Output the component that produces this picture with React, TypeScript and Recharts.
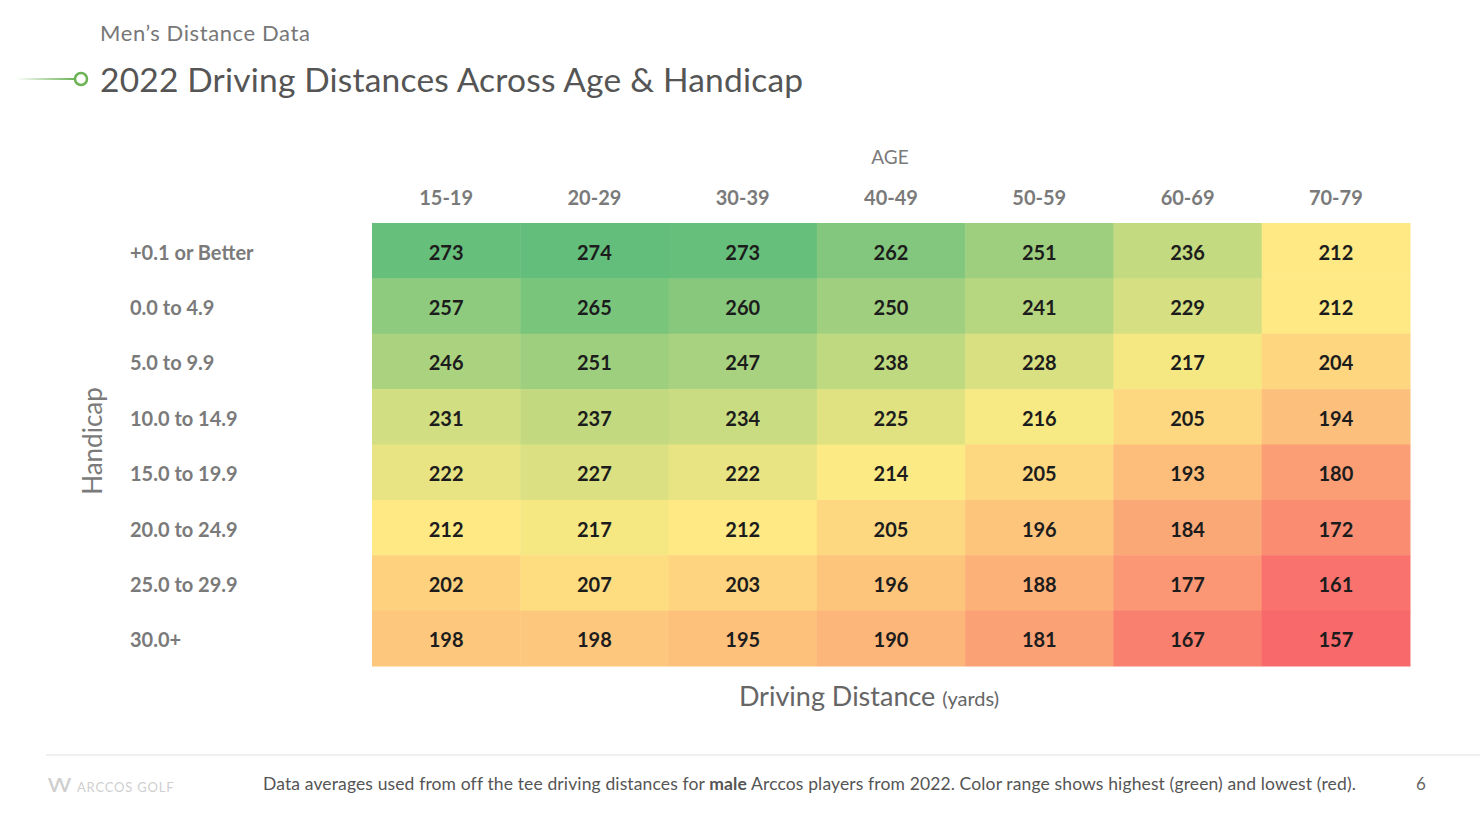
import React from "react";
import { ScatterChart, Scatter, XAxis, YAxis } from "recharts";

const AGES = ["15-19", "20-29", "30-39", "40-49", "50-59", "60-69", "70-79"];
const HANDICAPS = [
  "+0.1 or Better",
  "0.0 to 4.9",
  "5.0 to 9.9",
  "10.0 to 14.9",
  "15.0 to 19.9",
  "20.0 to 24.9",
  "25.0 to 29.9",
  "30.0+",
];
// driving distance (yards), one row per handicap band, one value per age group
const DISTANCES = [
  [273, 274, 273, 262, 251, 236, 212],
  [257, 265, 260, 250, 241, 229, 212],
  [246, 251, 247, 238, 228, 217, 204],
  [231, 237, 234, 225, 216, 205, 194],
  [222, 227, 222, 214, 205, 193, 180],
  [212, 217, 212, 205, 196, 184, 172],
  [202, 207, 203, 196, 188, 177, 161],
  [198, 198, 195, 190, 181, 167, 157],
];

const cells = HANDICAPS.flatMap((handicap, r) =>
  AGES.map((age, c) => ({ age, handicap, value: DISTANCES[r][c] }))
);

const allValues = DISTANCES.flat();
const sorted = [...allValues].sort((a, b) => a - b);
const MIN = sorted[0];
const MAX = sorted[sorted.length - 1];
const MID = (sorted[sorted.length / 2 - 1] + sorted[sorted.length / 2]) / 2;

const RED = [248, 105, 107];
const YELLOW = [255, 235, 132];
const GREEN = [99, 190, 123];

function mix(a: number[], b: number[], t: number) {
  const c = a.map((v, i) => Math.round(v + (b[i] - v) * t));
  return `rgb(${c[0]},${c[1]},${c[2]})`;
}

function colorFor(v: number) {
  if (v <= MID) return mix(RED, YELLOW, (v - MIN) / (MID - MIN));
  return mix(YELLOW, GREEN, (v - MID) / (MAX - MID));
}

const CHART_W = 1480;
const CHART_H = 826;
const MARGIN = { top: 183, right: 70, bottom: 160, left: 130 };
const X_AXIS_H = 40;
const Y_AXIS_W = 242;
const PLOT_W = CHART_W - MARGIN.left - MARGIN.right - Y_AXIS_W;
const PLOT_H = CHART_H - MARGIN.top - MARGIN.bottom - X_AXIS_H;
const CELL_W = PLOT_W / AGES.length;
const CELL_H = PLOT_H / HANDICAPS.length;

const labelFont = "Lato, 'Open Sans', sans-serif";

function HeatCell(props: any) {
  const { cx, cy, payload } = props;
  return (
    <g>
      <rect
        x={cx - CELL_W / 2}
        y={cy - CELL_H / 2}
        width={CELL_W + 0.5}
        height={CELL_H + 0.5}
        fill={colorFor(payload.value)}
      />
      <text
        x={cx}
        y={cy}
        dy={9}
        textAnchor="middle"
        fontFamily={labelFont}
        fontWeight={700}
        fontSize={20}
        fill="#1c1c1c"
      >
        {payload.value}
      </text>
    </g>
  );
}

function AgeTick(props: any) {
  const { x, y, payload } = props;
  return (
    <text x={x} y={y} dy={-18} textAnchor="middle" fontFamily={labelFont} fontWeight={700} fontSize={20} fill="#7a7a7a">
      {payload.value}
    </text>
  );
}

function HandicapTick(props: any) {
  const { x, y, payload } = props;
  return (
    <text x={x - Y_AXIS_W} y={y} dy={9} textAnchor="start" fontFamily={labelFont} fontWeight={700} fontSize={20} fill="#7a7a7a">
      {payload.value}
    </text>
  );
}

export default function App() {
  return (
    <div
      style={{
        position: "absolute",
        left: 0,
        top: 0,
        width: CHART_W,
        height: CHART_H,
        background: "#fff",
        overflow: "hidden",
        fontFamily: labelFont,
      }}
    >
      <div style={{ position: "absolute", left: 100, top: 19, fontSize: 22, color: "#777", letterSpacing: 0.6 }}>
        Men’s Distance Data
      </div>
      <svg style={{ position: "absolute", left: 0, top: 68 }} width={100} height={24}>
        <defs>
          <linearGradient id="lineFade" gradientUnits="userSpaceOnUse" x1={16} x2={75} y1={0} y2={0}>
            <stop offset="0%" stopColor="#6cb356" stopOpacity={0} />
            <stop offset="100%" stopColor="#6cb356" stopOpacity={1} />
          </linearGradient>
        </defs>
        <line x1={16} x2={75} y1={11} y2={11} stroke="url(#lineFade)" strokeWidth={2} />
        <circle cx={81} cy={11} r={6} fill="#fff" stroke="#6cb356" strokeWidth={2.5} />
      </svg>
      <div style={{ position: "absolute", left: 100, top: 59, fontSize: 33.5, color: "#555", letterSpacing: 0.2 }}>
        2022 Driving Distances Across Age &amp; Handicap
      </div>

      <div
        style={{
          position: "absolute",
          left: 790,
          width: 200,
          top: 145,
          textAlign: "center",
          fontSize: 19,
          color: "#7a7a7a",
        }}
      >
        AGE
      </div>
      <div
        style={{
          position: "absolute",
          left: -8,
          top: 425,
          width: 200,
          textAlign: "center",
          fontSize: 26,
          color: "#7a7a7a",
          transform: "rotate(-90deg)",
        }}
      >
        Handicap
      </div>

      <div style={{ position: "absolute", left: 0, top: 0 }}>
        <ScatterChart width={CHART_W} height={CHART_H} margin={MARGIN}>
          <XAxis
            dataKey="age"
            type="category"
            orientation="top"
            allowDuplicatedCategory={false}
            height={X_AXIS_H}
            axisLine={false}
            tickLine={false}
            tickSize={0}
            tickMargin={0}
            interval={0}
            tick={<AgeTick />}
          />
          <YAxis
            dataKey="handicap"
            type="category"
            reversed
            allowDuplicatedCategory={false}
            width={Y_AXIS_W}
            axisLine={false}
            tickLine={false}
            tickSize={0}
            tickMargin={0}
            interval={0}
            tick={<HandicapTick />}
          />
          <Scatter data={cells} shape={<HeatCell />} isAnimationActive={false} />
        </ScatterChart>
      </div>

      <div
        style={{
          position: "absolute",
          left: 0,
          width: 1738,
          top: 679,
          textAlign: "center",
          fontSize: 27,
          color: "#666",
        }}
      >
        Driving Distance <span style={{ fontSize: 20 }}>(yards)</span>
      </div>

      <div style={{ position: "absolute", left: 46, right: 0, top: 754, height: 2, background: "#f0f0f0" }} />
      <div
        style={{
          position: "absolute",
          left: 48,
          top: 774,
          fontSize: 13,
          color: "#cfcfcf",
          letterSpacing: 0.8,
          whiteSpace: "nowrap",
        }}
      >
        <span style={{ fontWeight: 700, fontSize: 18, marginRight: 8, letterSpacing: -2 }}>VV</span>ARCCOS GOLF
      </div>
      <div
        style={{
          position: "absolute",
          left: 263,
          top: 773,
          fontSize: 17.5,
          color: "#555",
          letterSpacing: 0.13,
          whiteSpace: "nowrap",
        }}
      >
        Data averages used from off the tee driving distances for <b>male</b> Arccos players from 2022. Color range
        shows highest (green) and lowest (red).
      </div>
      <div style={{ position: "absolute", left: 1416, top: 773, fontSize: 17, color: "#666" }}>6</div>
    </div>
  );
}
